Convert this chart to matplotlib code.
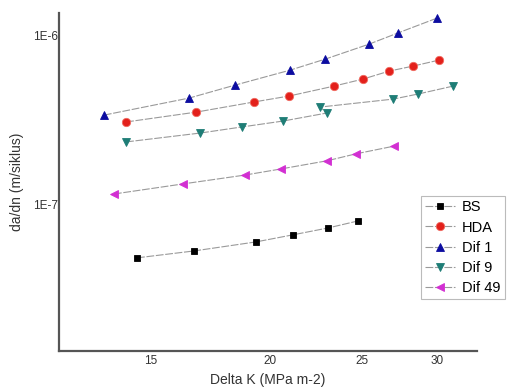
import matplotlib
matplotlib.use("Agg")
import matplotlib.pyplot as plt
from matplotlib.ticker import FixedLocator, FixedFormatter, NullLocator

plt.rcParams['font.family'] = ['Liberation Sans', 'DejaVu Sans']

# data (Delta K, da/dn)
bs_x = [14.50, 16.65, 19.35, 21.16, 23.04, 24.77]
bs_y = [4.88e-8, 5.36e-8, 6.06e-8, 6.67e-8, 7.32e-8, 8.05e-8]

hda_x = [14.12, 16.73, 19.25, 20.96, 23.37, 25.07, 26.71, 28.30, 30.15]
hda_y = [3.08e-7, 3.52e-7, 4.04e-7, 4.38e-7, 5.01e-7, 5.51e-7, 6.14e-7, 6.57e-7, 7.13e-7]

dif1_x = [13.38, 16.45, 18.39, 21.01, 22.87, 25.44, 27.29, 30.0]
dif1_y = [3.38e-7, 4.26e-7, 5.08e-7, 6.22e-7, 7.22e-7, 8.85e-7, 1.03e-6, 1.26e-6]

dif9_x = [14.12, 16.89, 18.70, 20.66, 22.98, 22.59, 26.97, 28.65, 31.19]
dif9_y = [2.35e-7, 2.65e-7, 2.88e-7, 3.12e-7, 3.48e-7, 3.77e-7, 4.20e-7, 4.50e-7, 5.01e-7]

dif49_x = [13.71, 16.21, 18.84, 20.56, 22.98, 24.65, 27.03]
dif49_y = [1.16e-7, 1.33e-7, 1.50e-7, 1.63e-7, 1.82e-7, 2.00e-7, 2.22e-7]

x_ticks = [15, 20, 25, 30]
y_ticks = [1e-7, 1e-6]
y_tick_labels = ["1E-7", "1E-6"]

fig = plt.figure(figsize=(5.08, 3.89), dpi=100)
ax = fig.add_axes([59 / 508, 38 / 389, (477 - 59) / 508, (351 - 13) / 389])

line_kw = dict(color="#9a9a9a", lw=0.8, ls=(0, (7, 1.5)), markeredgewidth=0.6)
ax.plot(bs_x, bs_y, marker="s", ms=5, mfc="black", mec="black", label="BS", **line_kw)
ax.plot(hda_x, hda_y, marker="o", ms=6, mfc="#e3201b", mec="#f06a60", label="HDA", **line_kw)
ax.plot(dif1_x, dif1_y, marker="^", ms=6.3, mfc="#0c0ca0", mec="#0c0ca0", label="Dif 1", **line_kw)
ax.plot(dif9_x, dif9_y, marker="v", ms=6.3, mfc="#1e7d76", mec="#1e7d76", label="Dif 9", **line_kw)
ax.plot(dif49_x, dif49_y, marker="<", ms=6.3, mfc="#d22fd2", mec="#d22fd2", label="Dif 49", **line_kw)

ax.set_xscale("log")
ax.set_yscale("log")
ax.set_xlim(12.0, 33.05)
ax.set_ylim(1.38e-8, 1.35e-6)

ax.xaxis.set_major_locator(FixedLocator(x_ticks))
ax.xaxis.set_major_formatter(FixedFormatter([str(t) for t in x_ticks]))
ax.xaxis.set_minor_locator(NullLocator())
ax.yaxis.set_major_locator(FixedLocator(y_ticks))
ax.yaxis.set_major_formatter(FixedFormatter(y_tick_labels))
ax.yaxis.set_minor_locator(NullLocator())
ax.tick_params(axis="both", length=0, labelsize=8.5, colors="#333333")
ax.tick_params(axis="y", pad=1)
ax.tick_params(axis="x", pad=3)

for s in ["top", "right"]:
    ax.spines[s].set_visible(False)
for s in ["left", "bottom"]:
    ax.spines[s].set_color("#555555")
    ax.spines[s].set_linewidth(1.6)

ax.set_xlabel("Delta K (MPa m-2)", fontsize=10, color="#333333", labelpad=4)
ax.set_ylabel("da/dn (m/siklus)", fontsize=10, color="#333333", labelpad=6)

leg = fig.legend(loc="upper left", bbox_to_anchor=(421 / 508, 1 - 196 / 389),
                 fontsize=10.5, frameon=True, fancybox=False, handlelength=2.0,
                 handletextpad=0.5, borderpad=0.3, labelspacing=0.42,
                 borderaxespad=0)
leg.get_frame().set_edgecolor("#aaaaaa")
leg.get_frame().set_linewidth(0.8)

fig.savefig("out.png", dpi=100)
